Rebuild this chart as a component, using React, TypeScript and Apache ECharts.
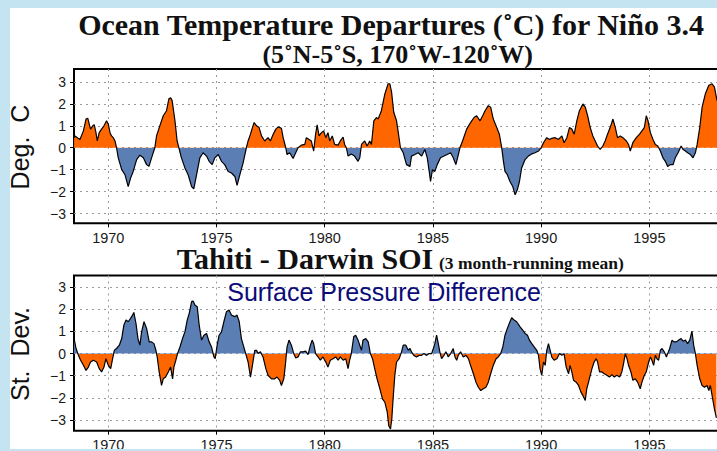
import React, { useEffect, useRef } from "react";
import * as echarts from "echarts";

// ---------- data ----------
const ninoYears = [
  1968.42, 1968.46, 1968.57, 1968.69, 1968.85, 1968.97, 1969.05, 1969.12, 1969.18, 1969.28,
  1969.35, 1969.43, 1969.49, 1969.58, 1969.69, 1969.8, 1969.92, 1970.0, 1970.08, 1970.15,
  1970.23, 1970.31, 1970.38, 1970.46, 1970.62, 1970.77, 1970.92, 1971.03, 1971.15, 1971.31,
  1971.46, 1971.62, 1971.77, 1971.88, 1972.0, 1972.15, 1972.23, 1972.38, 1972.54, 1972.69,
  1972.8, 1972.88, 1972.95, 1973.08, 1973.18, 1973.26, 1973.38, 1973.54, 1973.69, 1973.85,
  1973.95, 1974.08, 1974.23, 1974.38, 1974.54, 1974.66, 1974.8, 1974.92, 1975.08, 1975.23,
  1975.38, 1975.54, 1975.69, 1975.85, 1975.95, 1976.08, 1976.23, 1976.38, 1976.46, 1976.57,
  1976.66, 1976.74, 1976.85, 1976.97, 1977.08, 1977.23, 1977.38, 1977.49, 1977.62, 1977.74,
  1977.85, 1978.0, 1978.08, 1978.2, 1978.26, 1978.38, 1978.54, 1978.66, 1978.77, 1978.92,
  1979.08, 1979.15, 1979.28, 1979.38, 1979.49, 1979.58, 1979.65, 1979.74, 1979.85, 1979.95,
  1980.05, 1980.15, 1980.23, 1980.35, 1980.46, 1980.62, 1980.72, 1980.85, 1980.92, 1981.0,
  1981.08, 1981.23, 1981.38, 1981.54, 1981.62, 1981.7, 1981.85, 1981.96, 1982.08, 1982.16,
  1982.27, 1982.39, 1982.47, 1982.62, 1982.78, 1982.93, 1983.01, 1983.09, 1983.19, 1983.32,
  1983.4, 1983.5, 1983.63, 1983.78, 1983.94, 1984.01, 1984.17, 1984.32, 1984.48, 1984.63,
  1984.74, 1984.83, 1984.89, 1984.98, 1985.09, 1985.2, 1985.35, 1985.51, 1985.66, 1985.82,
  1985.94, 1986.06, 1986.14, 1986.25, 1986.37, 1986.56, 1986.74, 1986.9, 1987.02, 1987.18,
  1987.3, 1987.41, 1987.56, 1987.67, 1987.79, 1987.95, 1988.07, 1988.18, 1988.26, 1988.33,
  1988.44, 1988.56, 1988.69, 1988.8, 1988.9, 1989.0, 1989.1, 1989.26, 1989.41, 1989.57,
  1989.72, 1989.88, 1990.0, 1990.11, 1990.26, 1990.39, 1990.49, 1990.65, 1990.8, 1990.96,
  1991.06, 1991.19, 1991.31, 1991.42, 1991.53, 1991.65, 1991.77, 1991.93, 1992.04, 1992.15,
  1992.27, 1992.39, 1992.5, 1992.61, 1992.73, 1992.85, 1992.96, 1993.07, 1993.19, 1993.32,
  1993.43, 1993.53, 1993.66, 1993.78, 1993.94, 1994.04, 1994.12, 1994.24, 1994.4, 1994.55,
  1994.66, 1994.77, 1994.86, 1994.94, 1995.05, 1995.17, 1995.28, 1995.39, 1995.51, 1995.63,
  1995.74, 1995.85, 1995.97, 1996.1, 1996.2, 1996.33, 1996.47, 1996.56, 1996.67, 1996.77,
  1996.9, 1997.02, 1997.13, 1997.21, 1997.33, 1997.44, 1997.59, 1997.75, 1997.9, 1998.01,
  1998.13,
];
const ninoValues = [
  0.46, 0.54, 0.46, 0.38, 0.77, 1.31, 1.35, 1.08, 0.85, 1.0,
  1.05, 0.69, 0.31, 0.69, 0.85, 1.0, 1.23, 1.08, 0.69, 0.54,
  0.46, 0.31, 0.0, -0.46, -1.0, -1.23, -1.77, -1.38, -1.08, -0.54,
  -0.34, -0.46, -0.77, -0.85, -0.46, 0.0, 0.54, 1.0, 1.46, 1.69,
  2.23, 2.28, 2.15, 1.23, 0.31, 0.0, -0.46, -0.92, -1.23, -1.77,
  -1.88, -1.23, -0.46, -0.23, -0.38, -0.62, -0.77, -0.46, -0.31, -0.62,
  -0.77, -1.08, -1.15, -1.31, -1.72, -1.23, -0.69, 0.0, 0.31, 0.62,
  0.92, 1.15, 1.0, 0.92, 0.54, 0.31, 0.46, 0.31, 0.62, 0.85,
  0.95, 0.89, 0.46, 0.0, -0.31, -0.23, -0.49, -0.23, 0.0, 0.12,
  0.15, 0.46, 0.38, 0.31, -0.15, 0.62, 1.05, 0.54, 0.69, 0.77,
  0.46, 0.69, 0.31, 0.54, 0.15, 0.12, 0.31, 0.49, 0.15, 0.0,
  -0.38, -0.28, -0.38, -0.62, -0.46, 0.15, 0.31, 0.08, 0.31, 0.15,
  1.23, 1.38, 1.31, 1.69, 2.46, 2.92, 2.92, 2.54, 1.62, 1.23,
  0.69, 0.0, -0.23, -0.77, -0.85, -0.38, -0.31, -0.23, -0.38, -0.08,
  -0.46, -1.08, -1.54, -1.0, -1.08, -0.77, -0.46, -0.38, -0.31, -0.23,
  -0.46, -0.77, -0.46, 0.0, 0.31, 0.85, 1.15, 1.38, 1.46, 1.23,
  1.46, 1.69, 1.92, 1.85, 1.31, 0.92, 0.62, 0.0, -0.62, -1.08,
  -1.23, -1.54, -1.77, -2.15, -1.92, -1.54, -0.92, -0.54, -0.38, -0.28,
  -0.23, -0.15, 0.0, 0.23, 0.46, 0.38, 0.43, 0.46, 0.38, 0.54,
  0.23, 0.46, 0.92, 0.85, 0.62, 1.23, 1.69, 2.0, 1.85, 1.46,
  0.92, 0.54, 0.31, 0.08, -0.08, 0.08, 0.31, 0.62, 0.92, 1.31,
  0.92, 0.46, 0.54, 0.46, 0.31, 0.15, -0.15, 0.23, 0.46, 0.62,
  0.77, 0.92, 1.46, 1.23, 0.69, 0.38, 0.15, 0.08, -0.15, -0.46,
  -0.62, -0.85, -0.77, -0.77, -0.46, -0.23, 0.08, -0.08, -0.15, -0.23,
  -0.31, -0.46, -0.23, 0.15, 0.92, 1.85, 2.46, 2.85, 2.92, 2.77,
  2.15,
];

const soiYears = [
  1968.42, 1968.51, 1968.62, 1968.72, 1968.85, 1968.97, 1969.08, 1969.18, 1969.31, 1969.46,
  1969.58, 1969.69, 1969.8, 1969.89, 1970.0, 1970.11, 1970.2, 1970.28, 1970.38, 1970.51,
  1970.62, 1970.72, 1970.82, 1970.92, 1971.03, 1971.12, 1971.18, 1971.28, 1971.37, 1971.46,
  1971.54, 1971.65, 1971.77, 1971.89, 1972.0, 1972.11, 1972.2, 1972.26, 1972.35, 1972.46,
  1972.54, 1972.65, 1972.77, 1972.88, 1972.97, 1973.03, 1973.12, 1973.2, 1973.31, 1973.43,
  1973.54, 1973.65, 1973.74, 1973.85, 1973.92, 1974.0, 1974.11, 1974.2, 1974.31, 1974.42,
  1974.54, 1974.66, 1974.77, 1974.88, 1974.94, 1975.03, 1975.12, 1975.23, 1975.34, 1975.46,
  1975.58, 1975.69, 1975.85, 1975.95, 1976.05, 1976.15, 1976.26, 1976.35, 1976.46, 1976.57,
  1976.66, 1976.77, 1976.85, 1976.92, 1977.03, 1977.15, 1977.28, 1977.38, 1977.54, 1977.69,
  1977.8, 1977.92, 1978.0, 1978.11, 1978.18, 1978.26, 1978.35, 1978.46, 1978.57, 1978.66,
  1978.77, 1978.88, 1979.0, 1979.12, 1979.23, 1979.34, 1979.42, 1979.49, 1979.58, 1979.69,
  1979.8, 1979.92, 1980.05, 1980.15, 1980.26, 1980.38, 1980.51, 1980.62, 1980.72, 1980.85,
  1980.97, 1981.08, 1981.15, 1981.23, 1981.34, 1981.43, 1981.54, 1981.62, 1981.7, 1981.77,
  1981.9, 1982.01, 1982.11, 1982.21, 1982.31, 1982.42, 1982.55, 1982.67, 1982.78, 1982.89,
  1982.96, 1983.04, 1983.1, 1983.16, 1983.24, 1983.32, 1983.44, 1983.55, 1983.63, 1983.75,
  1983.86, 1983.94, 1984.01, 1984.12, 1984.24, 1984.37, 1984.48, 1984.58, 1984.71, 1984.83,
  1984.94, 1985.02, 1985.09, 1985.17, 1985.25, 1985.32, 1985.4, 1985.51, 1985.6, 1985.71,
  1985.82, 1985.94, 1986.02, 1986.1, 1986.17, 1986.28, 1986.4, 1986.53, 1986.64, 1986.74,
  1986.87, 1986.99, 1987.1, 1987.21, 1987.33, 1987.45, 1987.56, 1987.67, 1987.79, 1987.92,
  1988.02, 1988.13, 1988.23, 1988.33, 1988.44, 1988.56, 1988.64, 1988.75, 1988.87, 1989.03,
  1989.15, 1989.26, 1989.37, 1989.46, 1989.57, 1989.68, 1989.8, 1989.88, 1989.95, 1990.03,
  1990.11, 1990.19, 1990.26, 1990.34, 1990.42, 1990.49, 1990.6, 1990.73, 1990.85, 1990.96,
  1991.06, 1991.16, 1991.27, 1991.34, 1991.42, 1991.5, 1991.62, 1991.73, 1991.84, 1991.93,
  1992.04, 1992.11, 1992.19, 1992.27, 1992.35, 1992.45, 1992.55, 1992.61, 1992.7, 1992.81,
  1992.92, 1993.04, 1993.16, 1993.27, 1993.38, 1993.5, 1993.63, 1993.73, 1993.81, 1993.89,
  1993.97, 1994.04, 1994.15, 1994.24, 1994.35, 1994.46, 1994.58, 1994.66, 1994.77, 1994.86,
  1994.97, 1995.05, 1995.12, 1995.2, 1995.28, 1995.35, 1995.43, 1995.51, 1995.59, 1995.69,
  1995.79, 1995.85, 1995.94, 1996.05, 1996.13, 1996.25, 1996.36, 1996.47, 1996.56, 1996.67,
  1996.77, 1996.87, 1996.97, 1997.05, 1997.13, 1997.21, 1997.33, 1997.44, 1997.55, 1997.67,
  1997.75, 1997.82, 1997.9, 1998.01, 1998.1,
];
const soiValues = [
  0.68, 0.23, -0.08, -0.3, -0.53, -0.76, -0.61, -0.38, -0.3, -0.38,
  -0.68, -0.83, -0.61, -0.23, -0.53, -0.68, -0.23, 0.15, 0.23, 0.38,
  0.68, 1.29, 1.52, 1.44, 1.59, 1.74, 1.86, 1.36, 0.68, 0.38,
  0.98, 1.44, 1.14, 0.53, 0.53, 0.45, 0.15, -0.15, -0.83, -1.44,
  -1.14, -1.06, -0.83, -0.61, -1.14, -0.61, -0.3, 0.0, 0.3, 0.68,
  0.98, 1.52, 1.82, 2.35, 2.38, 2.2, 2.12, 1.29, 0.61, 0.83,
  0.91, 0.53, 0.3, -0.15, -0.23, 0.38, 0.83, 0.98, 1.44, 1.89,
  1.97, 1.74, 1.67, 1.74, 1.44, 0.68, 0.3, 0.0, -0.38, -1.06,
  -0.53, 0.15, 0.15, 0.0, 0.08, -0.15, -0.68, -0.98, -1.14, -1.14,
  -1.06, -1.21, -1.44, -1.14, -0.53, 0.3, 0.61, 0.38, 0.0, -0.2,
  -0.15, 0.08, 0.08, 0.11, -0.05, 0.38, 0.61, 0.45, 0.0, -0.15,
  -0.3, -0.15, -0.38, -0.61, -0.3, -0.23, -0.15, -0.3, -0.15, -0.3,
  -0.23, -0.68, -0.3, 0.0, 0.76, 0.83, 0.61, 0.38, 0.15, 0.61,
  0.68, 0.53, 0.0, -0.23, -0.68, -1.14, -1.59, -2.05, -2.2, -2.65,
  -3.26, -3.41, -2.95, -2.05, -0.98, -0.38, -0.23, 0.08, 0.38, 0.38,
  0.15, 0.23, 0.08, -0.08, -0.15, -0.08, -0.08, 0.0, -0.08, 0.0,
  0.0, 0.23, 0.45, 0.83, 0.45, 0.08, -0.23, -0.08, 0.08, -0.15,
  0.0, 0.23, -0.15, -0.3, -0.08, 0.08, -0.15, -0.08, -0.23, -0.53,
  -0.91, -1.29, -1.52, -1.67, -1.59, -1.52, -1.29, -0.91, -0.53, -0.23,
  -0.15, 0.0, 0.3, 0.83, 1.14, 1.44, 1.62, 1.52, 1.44, 1.21,
  1.06, 0.91, 0.83, 0.61, 0.45, 0.3, 0.15, -0.08, -0.68, -0.98,
  -0.38, -0.53, 0.15, 0.45, 0.15, -0.15, -0.3, -0.23, 0.0, -0.08,
  0.0, -0.61, -0.91, -0.53, -0.83, -1.21, -1.29, -1.44, -1.74, -1.89,
  -2.12, -1.59, -1.29, -0.98, -0.68, -0.38, -0.23, -0.38, -0.83, -0.83,
  -0.91, -0.98, -1.06, -0.95, -1.06, -0.98, -1.06, -0.83, -0.45, 0.0,
  -0.23, -0.53, -0.83, -1.21, -1.14, -1.29, -1.59, -1.29, -0.98, -0.83,
  -0.38, -0.15, -0.3, -0.53, -0.08, -0.23, -0.3, 0.15, 0.23, 0.08,
  -0.15, 0.0, 0.23, 0.61, 0.53, 0.53, 0.61, 0.68, 0.56, 0.61,
  0.45, 0.61, 1.02, 0.38, 0.0, -0.53, -1.14, -1.44, -1.52, -1.44,
  -1.67, -1.44, -1.89, -2.5, -2.9,
];

const yearTicks = [1970, 1975, 1980, 1985, 1990, 1995];
const valueTicks = [-3, -2, -1, 0, 1, 2, 3];

// ---------- styling ----------
const ORANGE = "#ff6600";
const BLUE = "#5b7fb5";
const SANS = '"Liberation Sans", Arial, Helvetica, sans-serif';
const SERIF = '"Liberation Serif", "Times New Roman", Times, serif';

const X_MIN = 1968.415;
const X_MAX = 1998.59;

function buildOption() {
  const nino = ninoYears.map((t, i) => [t, ninoValues[i]]);
  const soi = soiYears.map((t, i) => [t, soiValues[i]]);

  const grids = [
    { left: 74, top: 69, width: 653, height: 154.3 },
    { left: 74, top: 275.5, width: 653, height: 155.2 },
  ].map((g) => ({
    ...g,
    show: true,
    borderColor: "#000",
    borderWidth: 2,
    backgroundColor: "transparent",
    containLabel: false,
    outerBoundsMode: "none",
  }));

  const gridLine = { show: true, lineStyle: { color: "#9a9a9a", type: [2, 4] as any, width: 1 } };

  const xAxes = [0, 1].map((i) => ({
    type: "value",
    gridIndex: i,
    min: X_MIN,
    max: X_MAX,
    minInterval: 5,
    maxInterval: 5,
    axisLine: { show: false, onZero: false },
    axisTick: {
      show: true,
      inside: false,
      length: 4,
      customValues: yearTicks,
      lineStyle: { color: "#000", width: 1 },
    },
    axisLabel: {
      customValues: yearTicks,
      margin: 7,
      fontSize: 14.5,
      fontFamily: SANS,
      color: "#1a1a1a",
      formatter: (v: number) => String(Math.round(v)),
    },
    splitLine: gridLine,
  }));

  const yRanges = [
    [-3.447, 3.593],
    [-3.485, 3.53],
  ];
  const yAxes = [0, 1].map((i) => ({
    type: "value",
    gridIndex: i,
    min: yRanges[i][0],
    max: yRanges[i][1],
    minInterval: 1,
    maxInterval: 1,
    axisLine: { show: false, onZero: false },
    axisTick: {
      show: true,
      inside: false,
      length: 4,
      customValues: valueTicks,
      lineStyle: { color: "#000", width: 1 },
    },
    axisLabel: {
      customValues: valueTicks,
      margin: 8,
      fontSize: 14,
      fontFamily: SANS,
      color: "#1a1a1a",
      formatter: (v: number) => {
        const r = Math.round(v);
        return r < 0 ? "\u2212" + Math.abs(r) : String(r);
      },
    },
    splitLine: gridLine,
  }));

  const areaSeries = (data: number[][], i: number) => ({
    type: "line",
    xAxisIndex: i,
    yAxisIndex: i,
    data,
    symbol: "none",
    silent: true,
    lineStyle: { width: 0 },
    areaStyle: { opacity: 1 },
    z: 2,
  });
  const lineSeries = (data: number[][], i: number) => ({
    type: "line",
    xAxisIndex: i,
    yAxisIndex: i,
    data,
    symbol: "none",
    silent: true,
    lineStyle: { color: "#000", width: 1.2 },
    itemStyle: { color: "#000" },
    z: 3,
  });

  const text = (
    txt: string,
    x: number,
    y: number,
    size: number,
    family: string,
    weight: string,
    fill: string,
    align: string,
    rotation = 0
  ) => ({
    type: "text",
    x,
    y,
    rotation,
    z: 100,
    silent: true,
    style: {
      text: txt,
      fontSize: size,
      fontFamily: family,
      fontWeight: weight,
      fill,
      align,
      verticalAlign: "middle",
    },
  });

  return {
    animation: false,
    backgroundColor: "#c4e4f1",
    grid: grids,
    xAxis: xAxes,
    yAxis: yAxes,
    visualMap: [
      {
        type: "piecewise",
        show: false,
        seriesIndex: 0,
        dimension: 1,
        pieces: [
          { gt: -10, lte: 0, color: BLUE },
          { gt: 0, lte: 10, color: ORANGE },
        ],
        outOfRange: { color: "#999" },
      },
      {
        type: "piecewise",
        show: false,
        seriesIndex: 2,
        dimension: 1,
        pieces: [
          { gt: -10, lte: 0, color: ORANGE },
          { gt: 0, lte: 10, color: BLUE },
        ],
        outOfRange: { color: "#999" },
      },
    ],
    series: [areaSeries(nino, 0), lineSeries(nino, 0), areaSeries(soi, 1), lineSeries(soi, 1)],
    graphic: [
      {
        type: "rect",
        z: -10,
        silent: true,
        shape: { x: 10, y: 8, width: 720, height: 441 },
        style: { fill: "#ffffff" },
      },
      {
        type: "rect",
        z: 200,
        silent: true,
        shape: { x: 0, y: 449, width: 720, height: 4 },
        style: { fill: "#c4e4f1" },
      },
      text("Ocean Temperature Departures (\u02daC) for Ni\u00f1o 3.4", 391, 24.4, 30, SERIF, "bold", "#111", "center"),
      text("(5\u02daN-5\u02daS, 170\u02daW-120\u02daW)", 397.7, 54.2, 26, SERIF, "bold", "#111", "center"),
      text("Tahiti - Darwin SOI", 176.7, 258.5, 30, SERIF, "bold", "#111", "left"),
      text("(3 month-running mean)", 439, 262.6, 17.5, SERIF, "bold", "#111", "left"),
      text("Surface Pressure Difference", 384, 292, 25, SANS, "normal", "#0b0b7a", "center"),
      text("Deg.\u00a0\u00a0C", 19.6, 147, 25, SANS, "normal", "#111", "center", Math.PI / 2),
      text("St.\u00a0\u00a0Dev.", 19.6, 354, 25, SANS, "normal", "#111", "center", Math.PI / 2),
    ],
  };
}

export default function App() {
  const ref = useRef<HTMLDivElement>(null);
  useEffect(() => {
    if (!ref.current) return;
    const chart = echarts.init(ref.current, null, { renderer: "svg" });
    chart.setOption(buildOption() as any);
    return () => chart.dispose();
  }, []);
  return (
    <div
      ref={ref}
      style={{ position: "fixed", left: 0, top: 0, width: 717, height: 451, overflow: "hidden" }}
    />
  );
}
